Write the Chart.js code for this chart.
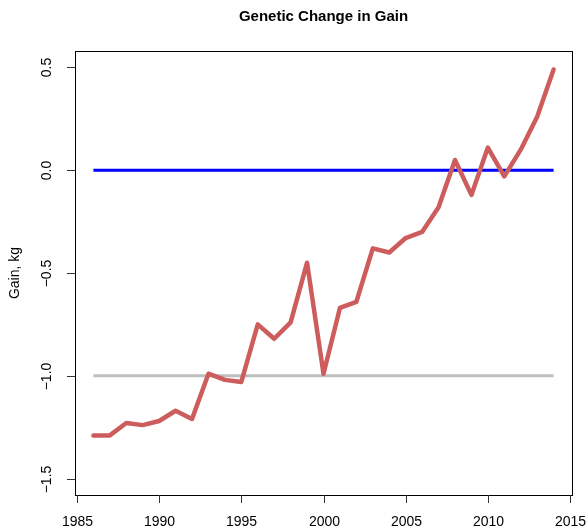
<!DOCTYPE html>
<html>
<head>
<meta charset="utf-8">
<script src="https://cdn.jsdelivr.net/npm/chart.js@4/dist/chart.umd.min.js"></script>
<style>
  body { margin: 0; background: #fff; }
  #wrap { width: 588px; height: 529px; }
</style>
</head>
<body>
<div id="wrap"><canvas id="myChart"></canvas></div>
<script>
// data
var years = [1986, 1987, 1988, 1989, 1990, 1991, 1992, 1993, 1994, 1995,
             1996, 1997, 1998, 1999, 2000, 2001, 2002, 2003, 2004, 2005,
             2006, 2007, 2008, 2009, 2010, 2011, 2012, 2013, 2014];
var gain = [-1.29, -1.29, -1.23, -1.24, -1.22, -1.17, -1.21, -0.99, -1.02, -1.03,
            -0.75, -0.82, -0.74, -0.45, -0.99, -0.67, -0.64, -0.38, -0.40, -0.33,
            -0.30, -0.18, 0.05, -0.12, 0.11, -0.03, 0.10, 0.26, 0.49];
var zeroLine = 0;
var refLine = -1;
var xTicks = [1985, 1990, 1995, 2000, 2005, 2010, 2015];
var yTicks = [-1.5, -1.0, -0.5, 0.0, 0.5];

function pts(vals) {
    return years.map(function (y, i) { return { x: y, y: vals[i] }; });
}
function flat(v) {
    return [{ x: years[0], y: v }, { x: years[years.length - 1], y: v }];
}

// R style frame, ticks and text
var rAxes = {
    id: 'rAxes',
    afterDraw: function (chart) {
        var c = chart.ctx, a = chart.chartArea;
        var xs = chart.scales.x, ys = chart.scales.y;
        c.save();
        c.strokeStyle = '#000';
        c.lineWidth = 1;
        c.strokeRect(Math.round(a.left) + 0.5, Math.round(a.top) + 0.5,
                     Math.round(a.right - a.left), Math.round(a.bottom - a.top));
        c.strokeStyle = '#333';
        c.fillStyle = '#000';
        c.font = '14px "Liberation Sans", Arial, sans-serif';
        // x axis
        c.textAlign = 'center';
        c.textBaseline = 'middle';
        xTicks.forEach(function (t) {
            var px = Math.round(xs.getPixelForValue(t)) + 0.5;
            c.beginPath();
            c.moveTo(px, a.bottom);
            c.lineTo(px, a.bottom + 8);
            c.stroke();
            c.fillText(String(t), px, 522);
        });
        // y axis
        yTicks.forEach(function (t) {
            var py = Math.round(ys.getPixelForValue(t)) + 0.5;
            c.beginPath();
            c.moveTo(a.left, py);
            c.lineTo(a.left - 8, py);
            c.stroke();
            c.save();
            c.translate(47, py);
            c.rotate(-Math.PI / 2);
            c.fillText(t.toFixed(1).replace('-', '\u2212'), 0, 0);
            c.restore();
        });
        // y title
        c.save();
        c.translate(15, (a.top + a.bottom) / 2);
        c.rotate(-Math.PI / 2);
        c.fillText('Gain, kg', 0, 0);
        c.restore();
        // main title
        c.font = 'bold 15px "Liberation Sans", Arial, sans-serif';
        c.fillText('Genetic Change in Gain', (a.left + a.right) / 2, 17);
        c.restore();
    }
};

var ctx = document.getElementById('myChart').getContext('2d');
var myChart = new Chart(ctx, {
    type: 'line',
    data: {
        datasets: [{
            data: pts(gain),
            borderColor: '#CD5C5C',
            borderWidth: 4.5,
            pointRadius: 0,
            borderJoinStyle: 'round',
            borderCapStyle: 'round'
        }, {
            data: flat(zeroLine),
            borderColor: '#0000FF',
            borderWidth: 3,
            pointRadius: 0
        }, {
            data: flat(refLine),
            borderColor: '#BEBEBE',
            borderWidth: 3,
            pointRadius: 0
        }]
    },
    options: {
        responsive: true,
        maintainAspectRatio: false,
        animation: false,
        layout: { padding: { left: 75, right: 16, top: 51, bottom: 34 } },
        scales: {
            x: {
                type: 'linear',
                min: 1984.88,
                max: 2015.12,
                display: false
            },
            y: {
                min: -1.58,
                max: 0.58,
                display: false
            }
        },
        plugins: {
            legend: { display: false },
            tooltip: { enabled: false }
        }
    },
    plugins: [rAxes]
});
</script>
</body>
</html>
